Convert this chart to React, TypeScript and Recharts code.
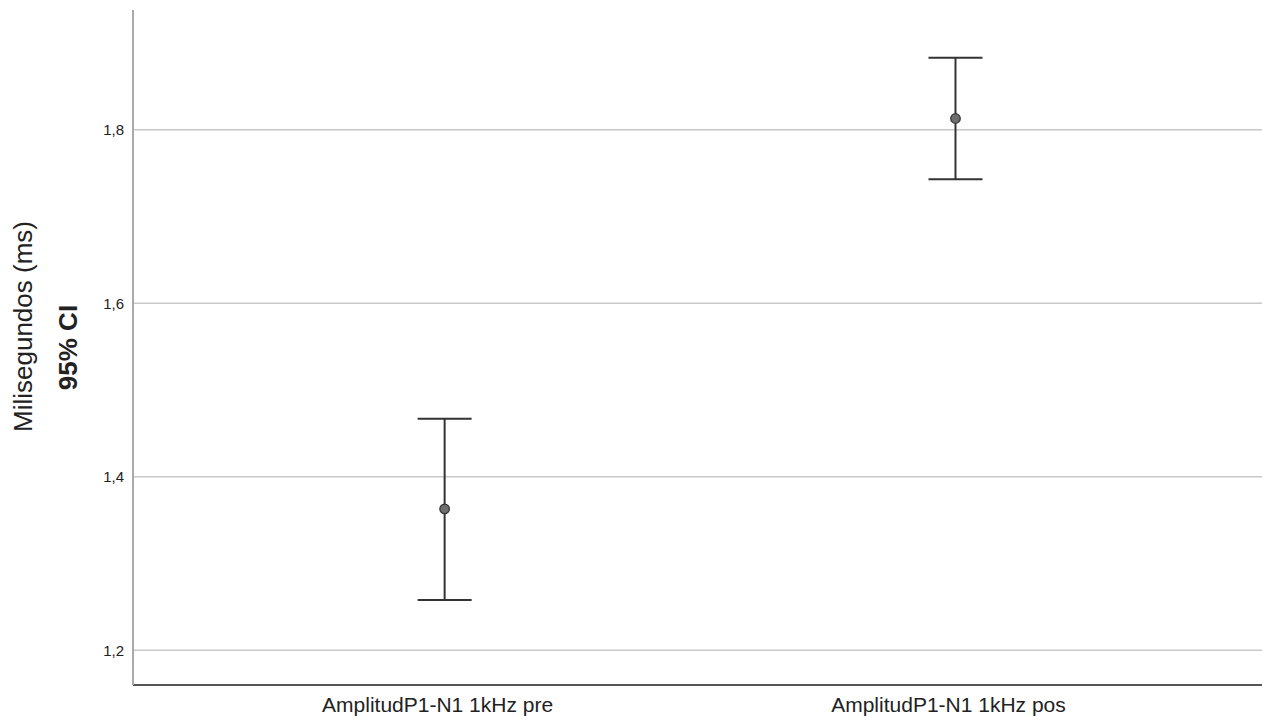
import React from "react";
import {
  ScatterChart,
  Scatter,
  XAxis,
  YAxis,
  ErrorBar,
  ReferenceLine,
} from "recharts";

const categories = ["AmplitudP1-N1 1kHz pre", "AmplitudP1-N1 1kHz pos"];
const means = [1.363, 1.813];
const lowerCI = [1.258, 1.743];
const upperCI = [1.467, 1.883];
const yTicks = [1.2, 1.4, 1.6, 1.8];

const data = categories.map((name, i) => ({
  x: i,
  name,
  y: means[i],
  err: [means[i] - lowerCI[i], upperCI[i] - means[i]],
}));

const FONT = "Arial, 'Liberation Sans', sans-serif";

// eslint-disable-next-line @typescript-eslint/no-explicit-any
const renderPoint = (props: any) => {
  const { cx, cy } = props;
  return <circle cx={cx} cy={cy} r={4.8} fill="#6e6e6e" stroke="#333" strokeWidth={1.2} />;
};

// eslint-disable-next-line @typescript-eslint/no-explicit-any
const renderYLabel = (props: any) => {
  const { viewBox } = props;
  const midY = viewBox.y + viewBox.height / 2;
  return (
    <g>
      <text
        x={23}
        y={midY - 21}
        transform={`rotate(-90, 23, ${midY - 21})`}
        textAnchor="middle"
        dominantBaseline="central"
        fontSize={26}
        fontFamily={FONT}
        fill="#222"
      >
        Milisegundos (ms)
      </text>
      <text
        x={68}
        y={midY}
        transform={`rotate(-90, 68, ${midY})`}
        textAnchor="middle"
        dominantBaseline="central"
        fontSize={26}
        fontWeight="bold"
        fontFamily={FONT}
        fill="#222"
      >
        95% CI
      </text>
    </g>
  );
};

export default function App() {
  return (
    <div style={{ position: "absolute", left: 0, top: 0, background: "#fff" }}>
      <ScatterChart
        width={1262}
        height={726}
        margin={{ top: 10, right: 0, bottom: 0, left: 0 }}
      >
        {yTicks.map((t) => (
          <ReferenceLine key={t} y={t} stroke="#c8c8c8" strokeWidth={1.5} />
        ))}
        <XAxis
          type="number"
          dataKey="x"
          domain={[-0.61, 1.6]}
          ticks={[0, 1]}
          tickFormatter={(v: number) => categories[v] ?? ""}
          height={41}
          tickLine={false}
          tickSize={6}
          tickMargin={6}
          axisLine={{ stroke: "#555", strokeWidth: 2 }}
          tick={{ fill: "#222", fontSize: 21, fontFamily: FONT, dx: -7 }}
          interval={0}
        />
        <YAxis
          type="number"
          dataKey="y"
          domain={[1.16, 1.938]}
          ticks={yTicks}
          width={133}
          tickLine={false}
          tickSize={6}
          tickMargin={3}
          axisLine={{ stroke: "#aaa", strokeWidth: 2 }}
          tick={{ fill: "#222", fontSize: 15, fontFamily: FONT }}
          tickFormatter={(v: number) => v.toFixed(1).replace(".", ",")}
          allowDataOverflow
          label={renderYLabel}
        />
        <Scatter data={data} shape={renderPoint} isAnimationActive={false}>
          <ErrorBar
            dataKey="err"
            direction="y"
            width={27}
            stroke="#333"
            strokeWidth={2}
            isAnimationActive={false}
          />
        </Scatter>
      </ScatterChart>
    </div>
  );
}
